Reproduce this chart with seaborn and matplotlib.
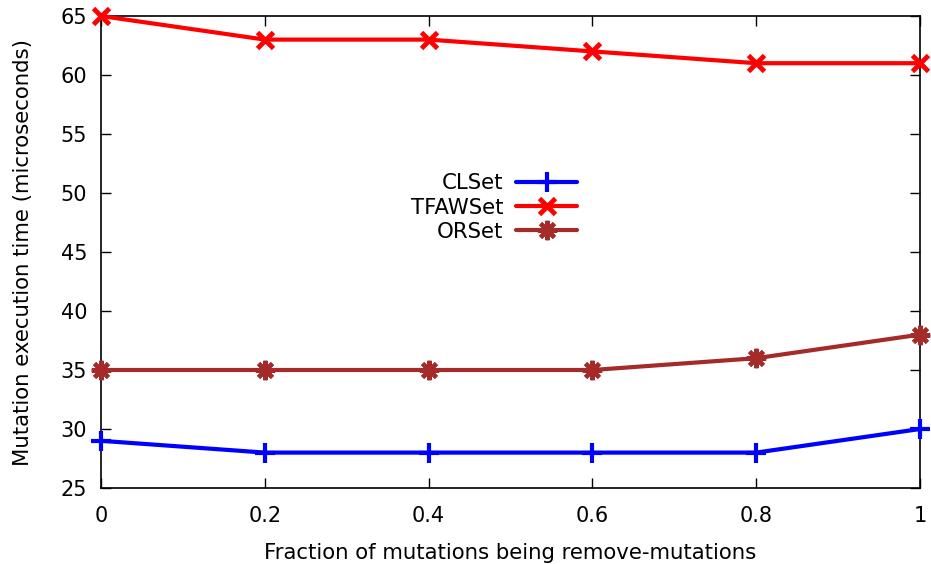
import matplotlib
matplotlib.use("Agg")
import matplotlib.pyplot as plt
import seaborn as sns
import pandas as pd

fractions = [0, 0.2, 0.4, 0.6, 0.8, 1.0]
clset = [29, 28, 28, 28, 28, 30]
tfawset = [65, 63, 63, 62, 61, 61]
orset = [35, 35, 35, 35, 36, 38]
series_names = ["CLSet", "TFAWSet", "ORSet"]
x_ticks = [0, 0.2, 0.4, 0.6, 0.8, 1.0]
x_ticklabels = ["0", "0.2", "0.4", "0.6", "0.8", "1"]
y_ticks = [25, 30, 35, 40, 45, 50, 55, 60, 65]

sns.set_theme(style="ticks")
plt.rcParams['font.family'] = ['DejaVu Sans']
plt.rcParams['text.color'] = 'black'
plt.rcParams['axes.labelcolor'] = 'black'

fig = plt.figure(figsize=(9.31, 5.64), dpi=100)
ax = fig.add_axes([101/931, 1-488/564, (920-101)/931, (488-16)/564])

styles = {
    "CLSet": dict(color="#0000ff", marker="+", ms=14, mew=3),
    "TFAWSet": dict(color="#ff0000", marker="x", ms=11, mew=3.5),
    "ORSet": dict(color="#a52a2a", marker=(8, 2, 0), ms=14, mew=3),
}
data = {"CLSet": clset, "TFAWSet": tfawset, "ORSet": orset}
for name in series_names:
    df = pd.DataFrame({"x": fractions, "y": data[name]})
    st = styles[name]
    sns.lineplot(data=df, x="x", y="y", ax=ax, color=st["color"], lw=3,
                 marker=st["marker"], markersize=st["ms"], markeredgewidth=st["mew"],
                 markeredgecolor=st["color"], label=name, clip_on=False, zorder=3)

ax.set_xlim(0, 1)
ax.set_ylim(25, 65)
ax.set_xticks(x_ticks)
ax.set_xticklabels(x_ticklabels)
ax.set_yticks(y_ticks)
ax.tick_params(direction="in", length=7, width=1, top=True, right=True,
               labelsize=15, colors="black")
ax.tick_params(axis="x", pad=13)
ax.tick_params(axis="y", pad=10)
for s in ax.spines.values():
    s.set_linewidth(1.2)
    s.set_color("black")
ax.set_xlabel("Fraction of mutations being remove-mutations", fontsize=15.3, labelpad=12, color="black")
ax.set_ylabel("Mutation execution time (microseconds)", fontsize=15.3, labelpad=20, color="black")

leg = ax.legend(loc="center", bbox_to_anchor=(494/931, 1-207.5/564), bbox_transform=fig.transFigure,
                frameon=False, markerfirst=False, fontsize=15.3, handlelength=2.9,
                labelspacing=0.2, handletextpad=0.6)
for t in leg.get_texts():
    t.set_ha("right")
    t.set_color("black")
ax.set_facecolor("white")
fig.savefig("out.png", dpi=100)
